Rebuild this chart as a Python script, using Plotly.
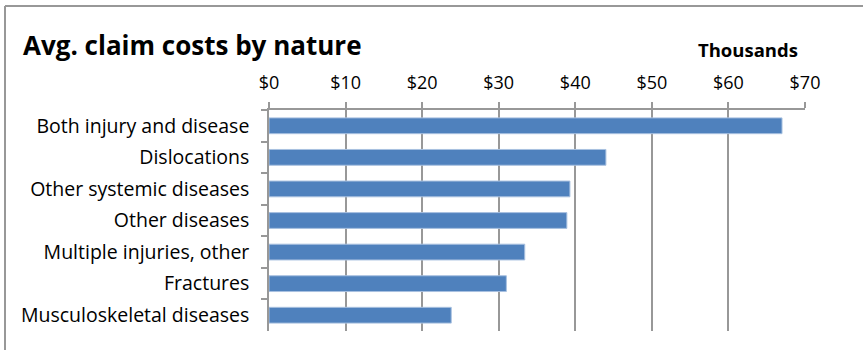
import plotly.graph_objects as go

categories = ["Both injury and disease", "Dislocations", "Other systemic diseases",
              "Other diseases", "Multiple injuries, other", "Fractures",
              "Musculoskeletal diseases"]
values = [67.0, 44.0, 39.3, 38.9, 33.4, 31.0, 23.8]
tick_vals = [0, 10, 20, 30, 40, 50, 60, 70]
tick_text = ["$0", "$10", "$20", "$30", "$40", "$50", "$60", "$70"]

W, H = 863, 350
L, R, T, B = 269, 58, 110, 19
pw, ph = W - L - R, H - T - B

def px(x):
    return (x - L) / pw

def py(y):
    return (H - B - y) / ph

FONT = "Open Sans"
GRAY = "#989898"

fig = go.Figure(go.Bar(
    x=values, y=categories, orientation="h",
    marker=dict(color="#4F81BD", line=dict(color="#A9C1E0", width=1)),
))

fig.update_layout(
    width=W, height=H,
    margin=dict(l=L, r=R, t=T, b=B),
    paper_bgcolor="white", plot_bgcolor="white",
    bargap=0.5, showlegend=False,
    font=dict(family=FONT, color="#000000", size=17),
    xaxis=dict(side="top", range=[0, 70], tickvals=tick_vals, ticktext=tick_text,
               showgrid=True, gridcolor=GRAY, gridwidth=1.5,
               showline=True, linecolor=GRAY, linewidth=1.5,
               ticks="outside", ticklen=6, tickcolor=GRAY, tickwidth=1.5,
               ticklabelstandoff=6, zeroline=False,
               tickfont=dict(family=FONT, size=18)),
    yaxis=dict(autorange="reversed", showline=True, linecolor=GRAY, linewidth=1.5,
               ticks="outside", ticklen=6, tickcolor=GRAY, tickwidth=1.5,
               tickson="boundaries", ticklabelstandoff=14, showgrid=False,
               tickfont=dict(family=FONT, size=19.5)),
    shapes=[
        dict(type="line", xref="paper", yref="paper", x0=px(5), x1=px(880),
             y0=py(6), y1=py(6), line=dict(color=GRAY, width=2)),
        dict(type="line", xref="paper", yref="paper", x0=px(5), x1=px(5),
             y0=py(6), y1=py(370), line=dict(color=GRAY, width=2)),
    ],
    annotations=[
        dict(text="<b>Avg. claim costs by nature</b>", xref="paper", yref="paper",
             x=px(21), y=py(45), xanchor="left", yanchor="middle", showarrow=False,
             font=dict(family=FONT, size=26, color="#000000")),
        dict(text="<b>Thousands</b>", xref="paper", yref="paper",
             x=px(748), y=py(49), xanchor="center", yanchor="middle", showarrow=False,
             font=dict(family=FONT, size=18.5, color="#000000")),
    ],
)

fig.write_html("out.html")
